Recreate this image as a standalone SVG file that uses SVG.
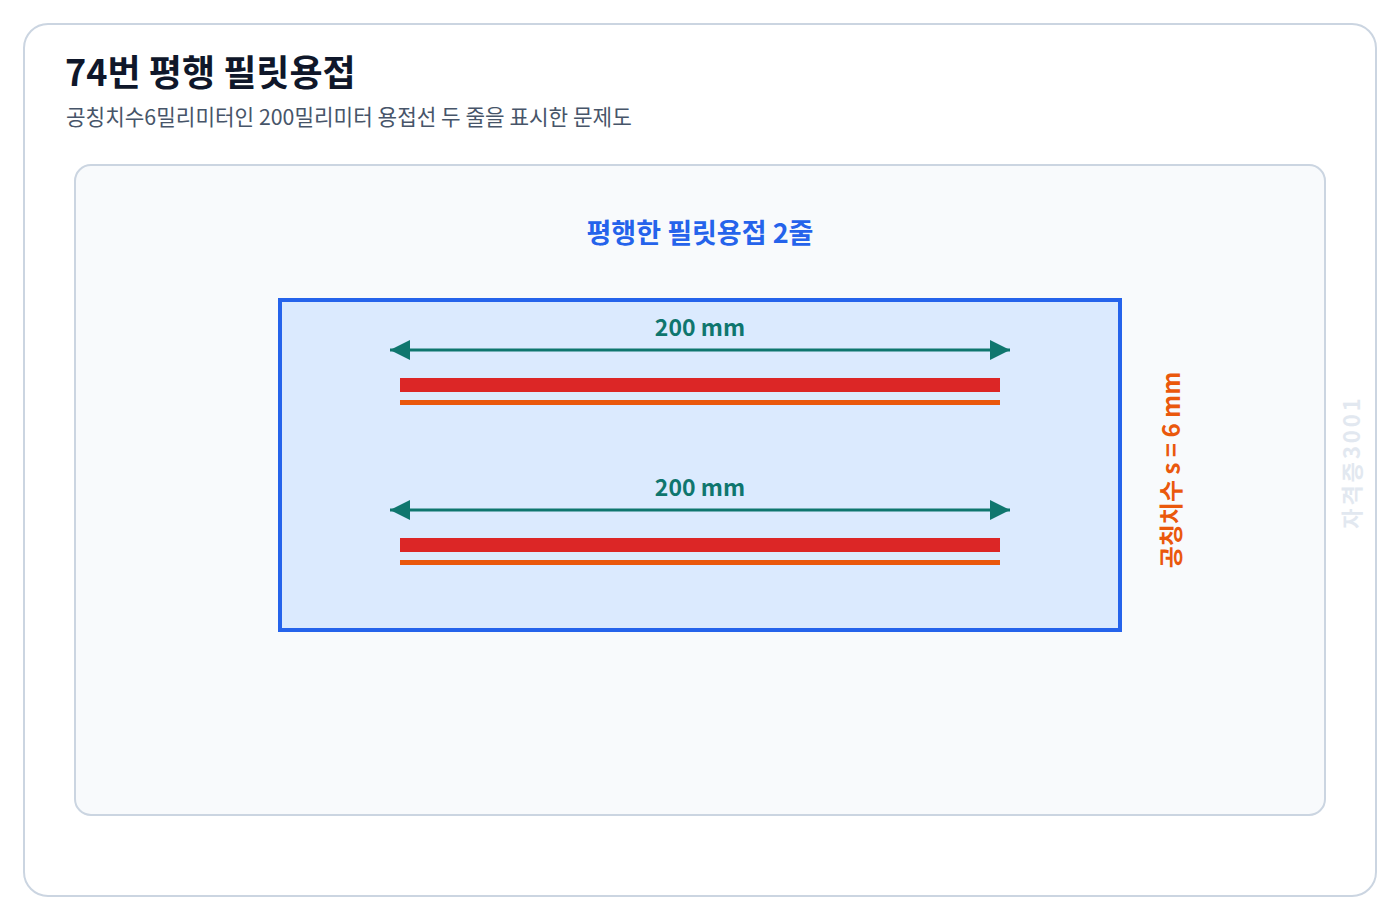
<svg xmlns="http://www.w3.org/2000/svg" width="1400" height="920" viewBox="0 0 1400 920">
<defs>
<style>
text{font-family:"Noto Sans CJK KR","Noto Sans",sans-serif}
.dim{fill:#0f766e;font-size:23px;font-weight:700;text-anchor:middle}
.arr{stroke:#0f766e;stroke-width:3;fill:none}
.weld{fill:#dc2626}
.leg{fill:#ea580c}
</style>
<marker id="ah" viewBox="0 0 20 20" refX="20" refY="10" markerWidth="20" markerHeight="20" markerUnits="userSpaceOnUse" orient="auto-start-reverse">
<path d="M0,0 L20,10 L0,20 Z" fill="#0f766e"/>
</marker>
</defs>
<rect width="1400" height="920" fill="#ffffff"/>
<g id="card">
<rect x="24" y="24" width="1352" height="872" rx="24" fill="#ffffff" stroke="#cbd5e1" stroke-width="2"/>
<text x="65" y="86" font-size="36" font-weight="700" fill="#0f172a">74번 평행 필릿용접</text>
<text x="66" y="125" font-size="21.3" fill="#475569">공칭치수6밀리미터인 200밀리미터 용접선 두 줄을 표시한 문제도</text>
</g>
<g id="panel">
<rect x="75" y="165" width="1250" height="650" rx="16" fill="#f8fafc" stroke="#cbd5e1" stroke-width="2"/>
<text x="700" y="243" font-size="27" font-weight="700" fill="#2563eb" text-anchor="middle">평행한 필릿용접 2줄</text>
</g>
<g id="plate">
<rect x="280" y="300" width="840" height="330" fill="#dbeafe" stroke="#2563eb" stroke-width="4"/>
</g>
<g id="weld1">
<rect class="weld" x="400" y="378" width="600" height="14"/>
<rect class="leg" x="400" y="400" width="600" height="5"/>
</g>
<g id="weld2">
<rect class="weld" x="400" y="538" width="600" height="14"/>
<rect class="leg" x="400" y="560" width="600" height="5"/>
</g>
<g id="connectors">
<line class="arr" x1="390" y1="350" x2="1010" y2="350" marker-start="url(#ah)" marker-end="url(#ah)"/>
<line class="arr" x1="390" y1="510" x2="1010" y2="510" marker-start="url(#ah)" marker-end="url(#ah)"/>
</g>
<g id="labels">
<text class="dim" x="700" y="336">200 mm</text>
<text class="dim" x="700" y="496">200 mm</text>
<text x="1180" y="470" font-size="24" font-weight="700" fill="#ea580c" text-anchor="middle" transform="rotate(-90 1180 470)">공칭치수 s = 6 mm</text>
<text x="1360" y="462" font-size="22" font-weight="600" fill="#e2e8f0" text-anchor="middle" letter-spacing="3" transform="rotate(-90 1360 462)">자격증3001</text>
</g>
</svg>
